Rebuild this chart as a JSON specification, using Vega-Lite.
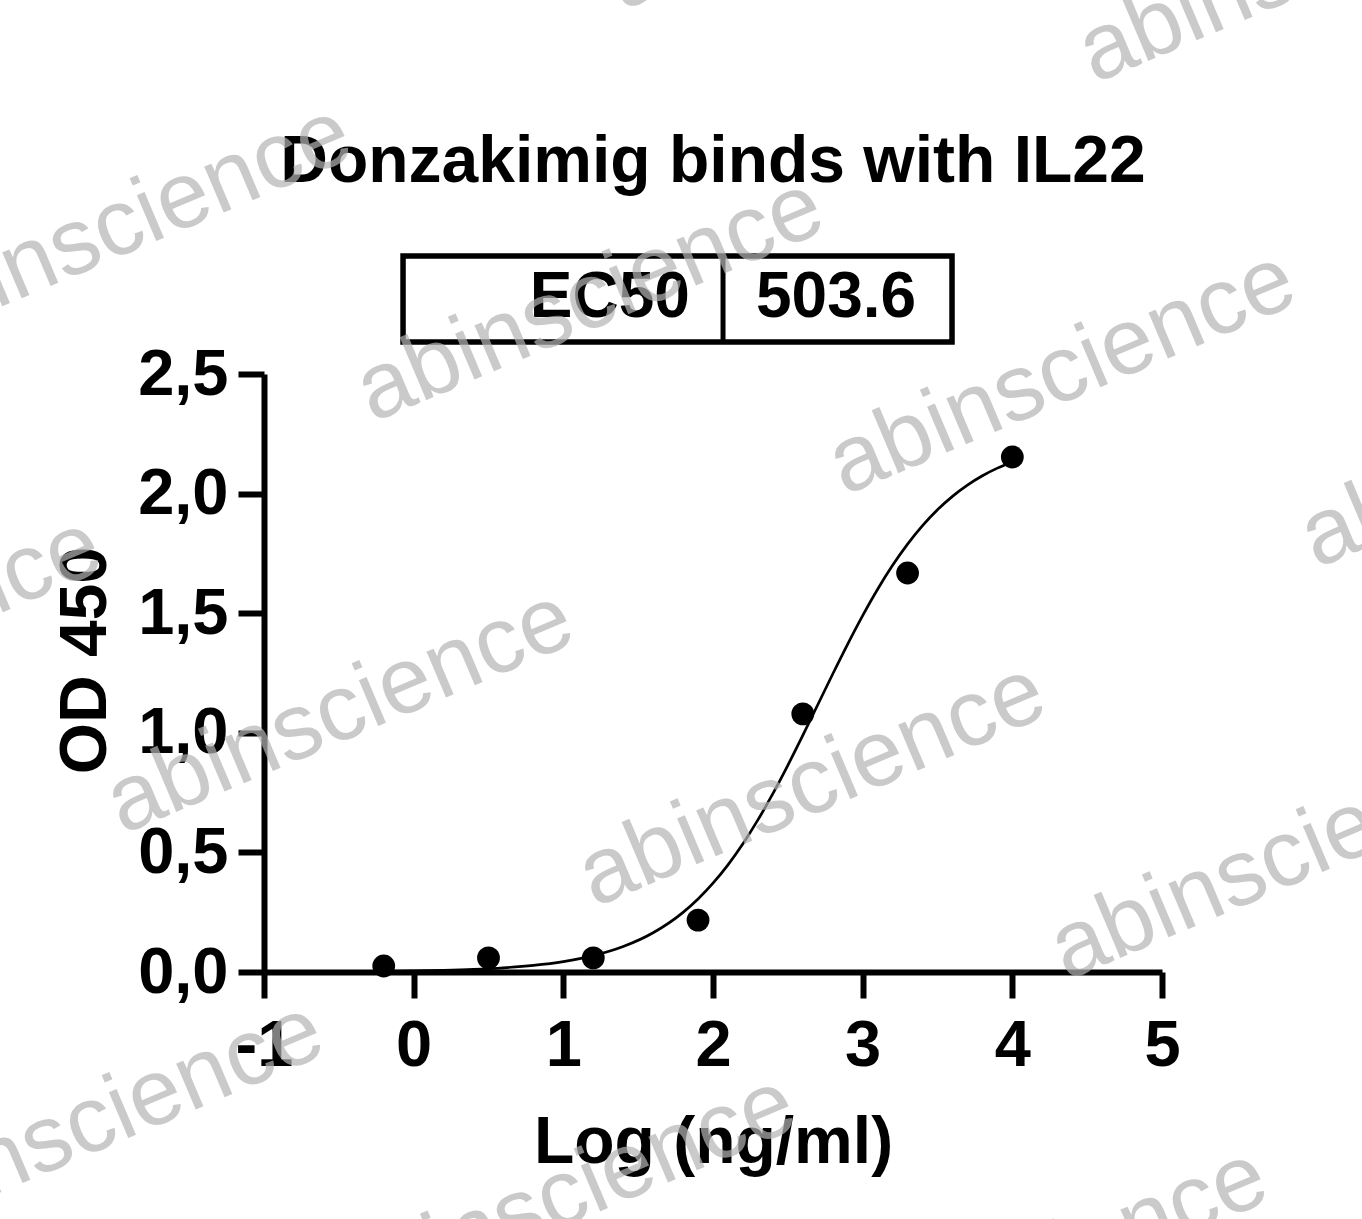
{
  "$schema": "https://vega.github.io/schema/vega-lite/v6.json",
  "description": "Donzakimig binds with IL22, ELISA dose-response",
  "width": 898,
  "height": 598,
  "autosize": {"type": "none"},
  "padding": {"left": 264, "top": 374, "right": 200, "bottom": 247},
  "background": "white",
  "datasets": {
    "points": [
      {"logc": -0.2, "od": 0.025},
      {"logc": 0.5, "od": 0.059},
      {"logc": 1.2, "od": 0.059},
      {"logc": 1.9, "od": 0.217},
      {"logc": 2.6, "od": 1.079},
      {"logc": 3.3, "od": 1.668},
      {"logc": 4.0, "od": 2.153}
    ],
    "curve": [
      {"logc": -0.2, "od": 0.0028},
      {"logc": 0.0, "od": 0.0044},
      {"logc": 0.2, "od": 0.0070},
      {"logc": 0.4, "od": 0.0111},
      {"logc": 0.6, "od": 0.0176},
      {"logc": 0.8, "od": 0.0277},
      {"logc": 1.0, "od": 0.0436},
      {"logc": 1.2, "od": 0.0684},
      {"logc": 1.4, "od": 0.1065},
      {"logc": 1.6, "od": 0.1641},
      {"logc": 1.8, "od": 0.2494},
      {"logc": 1.9, "od": 0.3052},
      {"logc": 2.0, "od": 0.3712},
      {"logc": 2.1, "od": 0.4481},
      {"logc": 2.2, "od": 0.5363},
      {"logc": 2.3, "od": 0.6358},
      {"logc": 2.4, "od": 0.7457},
      {"logc": 2.5, "od": 0.8642},
      {"logc": 2.6, "od": 0.9890},
      {"logc": 2.7, "od": 1.1174},
      {"logc": 2.8, "od": 1.2458},
      {"logc": 2.9, "od": 1.3710},
      {"logc": 3.0, "od": 1.4899},
      {"logc": 3.1, "od": 1.6001},
      {"logc": 3.2, "od": 1.7000},
      {"logc": 3.3, "od": 1.7887},
      {"logc": 3.4, "od": 1.8660},
      {"logc": 3.5, "od": 1.9324},
      {"logc": 3.6, "od": 1.9885},
      {"logc": 3.7, "od": 2.0354},
      {"logc": 3.8, "od": 2.0745},
      {"logc": 3.9, "od": 2.1065},
      {"logc": 4.0, "od": 2.1326}
    ],
    "heading": [{"text": "Donzakimig binds with IL22"}],
    "ec50": [{"label": "EC50", "value": "503.6"}],
    "watermark": [
      {"x": -1.976, "y": 3.115, "text": "abinscience"},
      {"x": 1.178, "y": 2.809, "text": "abinscience"},
      {"x": 4.332, "y": 2.504, "text": "abinscience"},
      {"x": 7.485, "y": 2.199, "text": "abinscience"},
      {"x": 2.848, "y": 4.532, "text": "abinscience"},
      {"x": 6.002, "y": 4.227, "text": "abinscience"},
      {"x": -3.646, "y": 1.392, "text": "abinscience"},
      {"x": -0.492, "y": 1.087, "text": "abinscience"},
      {"x": 2.661, "y": 0.782, "text": "abinscience"},
      {"x": 5.815, "y": 0.477, "text": "abinscience"},
      {"x": -2.163, "y": -0.635, "text": "abinscience"},
      {"x": 0.991, "y": -0.941, "text": "abinscience"},
      {"x": 4.145, "y": -1.246, "text": "abinscience"}
    ]
  },
  "layer": [
    {
      "data": {"name": "curve"},
      "mark": {"type": "line", "color": "black", "strokeWidth": 2.7, "interpolate": "monotone"},
      "encoding": {
        "x": {
          "field": "logc",
          "type": "quantitative",
          "scale": {"domain": [-1, 5], "nice": false, "zero": false},
          "axis": {
            "title": "Log (ng/ml)",
            "values": [-1, 0, 1, 2, 3, 4, 5],
            "labelExpr": "'' + datum.value",
            "labelPadding": 16,
            "titleX": 449,
            "titleY": 190,
            "titleBaseline": "alphabetic"
          }
        },
        "y": {
          "field": "od",
          "type": "quantitative",
          "scale": {"domain": [0, 2.5], "nice": false, "zero": false},
          "axis": {
            "title": "OD 450",
            "values": [0, 0.5, 1, 1.5, 2, 2.5],
            "labelExpr": "replace(format(datum.value, '.1f'), '.', ',')",
            "labelPadding": 10,
            "titleX": -159,
            "titleY": 286,
            "titleBaseline": "alphabetic"
          }
        }
      }
    },
    {
      "data": {"name": "points"},
      "mark": {"type": "point", "shape": "circle", "filled": true, "color": "black", "opacity": 1, "size": 520},
      "encoding": {
        "x": {"field": "logc", "type": "quantitative"},
        "y": {"field": "od", "type": "quantitative"}
      }
    },
    {
      "data": {"name": "heading"},
      "mark": {"type": "text", "font": "Liberation Sans", "fontWeight": "bold", "fontSize": 66, "color": "black", "align": "center", "baseline": "alphabetic"},
      "encoding": {
        "x": {"datum": 2.0, "type": "quantitative"},
        "y": {"datum": 3.303, "type": "quantitative"},
        "text": {"field": "text"}
      }
    },
    {
      "data": {"name": "ec50"},
      "mark": {"type": "rect", "fill": null, "fillOpacity": 0, "stroke": "black", "strokeWidth": 5.5},
      "encoding": {
        "x": {"datum": -0.071, "type": "quantitative"},
        "x2": {"datum": 3.597},
        "y": {"datum": 2.993, "type": "quantitative"},
        "y2": {"datum": 2.634}
      }
    },
    {
      "data": {"name": "ec50"},
      "mark": {"type": "rule", "color": "black", "strokeWidth": 5},
      "encoding": {
        "x": {"datum": 2.067, "type": "quantitative"},
        "y": {"datum": 2.993, "type": "quantitative"},
        "y2": {"datum": 2.634}
      }
    },
    {
      "data": {"name": "ec50"},
      "mark": {"type": "text", "font": "Liberation Sans", "fontWeight": "bold", "fontSize": 64, "color": "black", "align": "right", "baseline": "alphabetic"},
      "encoding": {
        "x": {"datum": 1.846, "type": "quantitative"},
        "y": {"datum": 2.738, "type": "quantitative"},
        "text": {"field": "label"}
      }
    },
    {
      "data": {"name": "ec50"},
      "mark": {"type": "text", "font": "Liberation Sans", "fontWeight": "bold", "fontSize": 64, "color": "black", "align": "center", "baseline": "alphabetic"},
      "encoding": {
        "x": {"datum": 2.822, "type": "quantitative"},
        "y": {"datum": 2.738, "type": "quantitative"},
        "text": {"field": "value"}
      }
    },
    {
      "data": {"name": "watermark"},
      "mark": {"type": "text", "font": "Liberation Sans", "fontSize": 94, "color": "#b4b4b4", "opacity": 0.7, "angle": -23, "align": "center", "baseline": "middle"},
      "encoding": {
        "x": {"field": "x", "type": "quantitative"},
        "y": {"field": "y", "type": "quantitative"},
        "text": {"field": "text"}
      }
    }
  ],
  "config": {
    "view": {"stroke": null},
    "axis": {
      "grid": false,
      "domainColor": "black",
      "domainWidth": 6,
      "tickColor": "black",
      "tickWidth": 6,
      "tickSize": 26,
      "labelFont": "Liberation Sans",
      "labelFontWeight": "bold",
      "labelFontSize": 65,
      "labelColor": "black",
      "labelFlush": false,
      "labelOverlap": false,
      "titleFont": "Liberation Sans",
      "titleFontWeight": "bold",
      "titleFontSize": 66,
      "titleColor": "black",
      "titleAlign": "center"
    }
  }
}
